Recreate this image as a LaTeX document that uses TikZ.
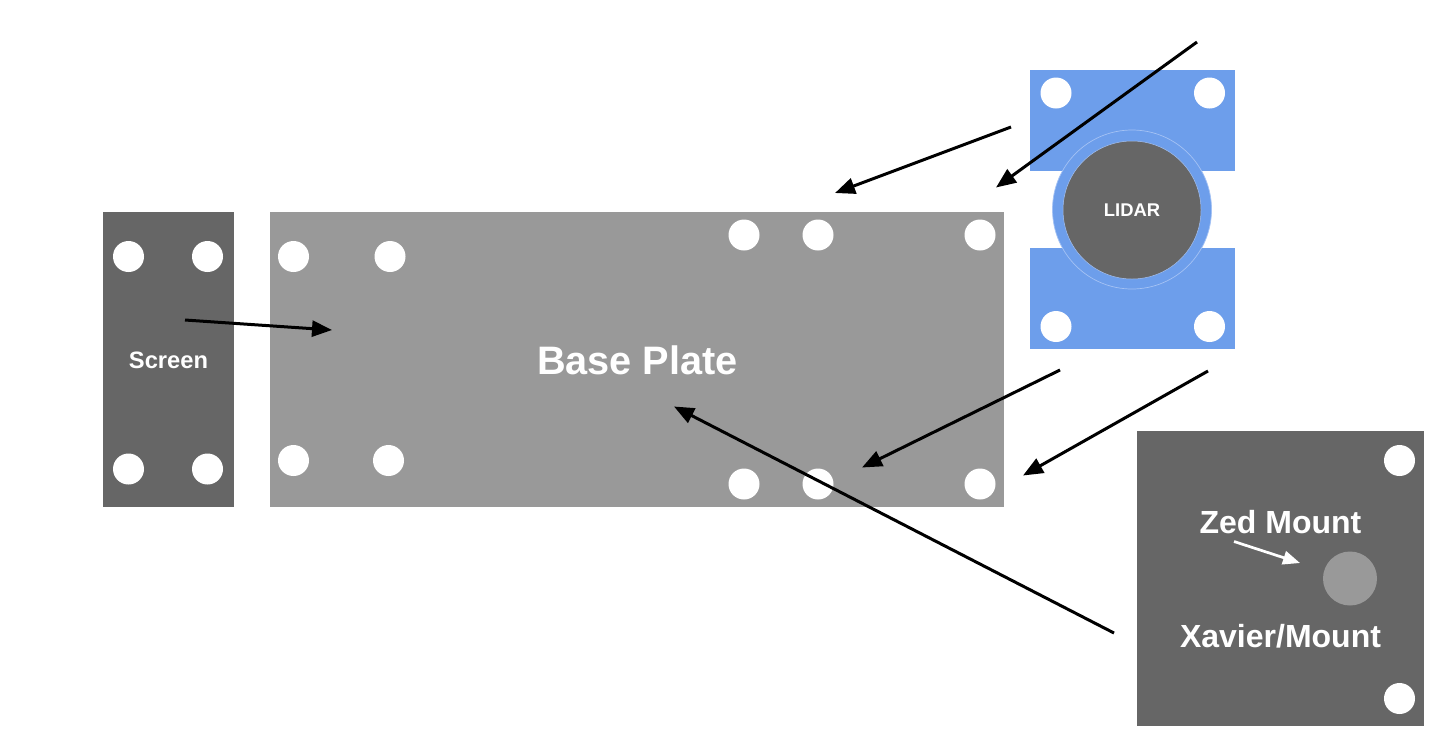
\documentclass[tikz,border=0pt]{standalone}
\usepackage{fontspec}
\setmainfont{Liberation Sans}
\usetikzlibrary{arrows.meta}
\definecolor{darkplate}{HTML}{666666}
\definecolor{lightplate}{HTML}{999999}
\definecolor{lidarblue}{HTML}{6D9EEB}
\definecolor{lidarline}{HTML}{A4C2F4}
\tikzset{
  plate/.style={rectangle,inner sep=0pt,outer sep=0pt,draw=none},
  hole/.style={circle,fill=white,draw=none,inner sep=0pt,minimum size=31pt},
  label/.style={text=white,font=\bfseries,inner sep=0pt},
  conn/.style={draw=black,line width=3pt,-{Triangle[length=20pt,width=16pt]}},
  connw/.style={draw=white,line width=2.7pt,-{Triangle[length=17pt,width=13.5pt]}}
}
\begin{document}
\begin{tikzpicture}[x=1pt,y=-1pt]
\useasboundingbox (0,0) rectangle (1450,740);
% plates
\node[plate,fill=darkplate,minimum width=130.5pt,minimum height=295pt] (screen) at (168.25,359.5) {};
\node[plate,fill=lightplate,minimum width=733.5pt,minimum height=295pt] (base) at (636.75,359.5) {};
\node[plate,fill=lidarblue,minimum width=205.5pt,minimum height=279.5pt] (lidarplate) at (1132.25,209.5) {};
\node[plate,fill=white,minimum width=205.5pt,minimum height=77pt] (lidarband) at (1132.25,209.5) {};
\node[plate,fill=darkplate,minimum width=286.5pt,minimum height=295pt] (xavier) at (1280.25,578.5) {};
% screen holes
\node[hole] (s1) at (128.5,256.5) {};
\node[hole] (s2) at (207.5,256.5) {};
\node[hole] (s3) at (128.5,469) {};
\node[hole] (s4) at (207.5,469) {};
% base holes
\node[hole] (b1) at (293.5,256.5) {};
\node[hole] (b2) at (390,256.5) {};
\node[hole] (b3) at (293.5,460.5) {};
\node[hole] (b4) at (388.5,460.5) {};
\node[hole] (b5) at (744,235) {};
\node[hole] (b6) at (818,235) {};
\node[hole] (b7) at (980,235) {};
\node[hole] (b8) at (744,484) {};
\node[hole] (b9) at (818,484) {};
\node[hole] (b10) at (980,484) {};
% lidar holes
\node[hole] (l1) at (1056,93) {};
\node[hole] (l2) at (1209.5,93) {};
\node[hole] (l3) at (1056,326.5) {};
\node[hole] (l4) at (1209.5,326.5) {};
% lidar
\node[circle,fill=lidarblue,draw=lidarline,line width=0.7pt,inner sep=0pt,minimum size=159pt] (lidarring) at (1132,209.5) {};
\node[circle,fill=darkplate,draw=lidarline,line width=0.5pt,inner sep=0pt,minimum size=138pt] (lidar) at (1132,210) {};
% xavier holes
\node[hole] (x1) at (1399.5,460.5) {};
\node[hole] (x2) at (1399.5,698.5) {};
\node[circle,fill=lightplate,inner sep=0pt,minimum size=54pt] (zed) at (1350,578.5) {};
% labels
\node[label,font=\bfseries\fontsize{23.7}{26}\selectfont] (screenlabel) at (168.5,360.5) {Screen};
\node[label,font=\bfseries\fontsize{39.7}{44}\selectfont] (baselabel) at (637.5,360.5) {Base Plate};
\node[label,font=\bfseries\fontsize{18.4}{21}\selectfont] (lidarlabel) at (1132,210.5) {LIDAR};
\node[label,font=\bfseries\fontsize{32}{36}\selectfont] (zedlabel) at (1280.5,522.5) {Zed Mount};
\node[label,font=\bfseries\fontsize{32}{36}\selectfont] (xavierlabel) at (1280.5,636.5) {Xavier/Mount};
% connector ends
\coordinate (a1s) at (1011,127);
\coordinate (a1e) at (835,193);
\coordinate (a2s) at (1197,42);
\coordinate (a2e) at (996,187.5);
\coordinate (a3s) at (1060,370);
\coordinate (a3e) at (862,467.5);
\coordinate (a4s) at (1208,371);
\coordinate (a4e) at (1023,475.5);
\coordinate (a5s) at (1114,633);
\coordinate (a5e) at (674,406.5);
\coordinate (a6s) at (185,320);
\coordinate (a6e) at (332,330);
\coordinate (a7s) at (1234,541.5);
\coordinate (a7e) at (1300,563);
% connectors
\draw[conn] (a1s) -- (a1e);
\draw[conn] (a2s) -- (a2e);
\draw[conn] (a3s) -- (a3e);
\draw[conn] (a4s) -- (a4e);
\draw[conn] (a5s) -- (a5e);
\draw[conn] (a6s) -- (a6e);
\draw[connw] (a7s) -- (a7e);
\end{tikzpicture}
\end{document}
